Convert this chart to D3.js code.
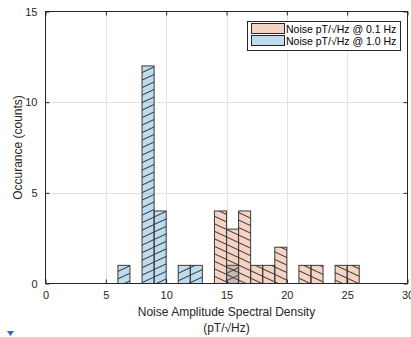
<!DOCTYPE html>
<html>
<head>
<meta charset="utf-8">
<script src="https://cdn.jsdelivr.net/npm/d3@7"></script>
<style>
  html, body { margin: 0; padding: 0; background: #fff; }
  svg { display: block; font-family: "Liberation Sans", Arial, Helvetica, sans-serif; }
</style>
</head>
<body>
<svg id="chart" width="411" height="337"></svg>
<script>
// Histogram bins (left edge, width 1) and counts for each series
const binWidth = 1;
const bins10 = [6, 8, 9, 11, 12, 15];
const counts10 = [1, 12, 4, 1, 1, 1];
const bins01 = [14, 15, 16, 17, 18, 19, 21, 22, 24, 25];
const counts01 = [4, 3, 4, 1, 1, 2, 1, 1, 1, 1];

const xTicks = [0, 5, 10, 15, 20, 25, 30];
const yTicks = [0, 5, 10, 15];
const seriesNames = ["Noise pT/\u221AHz @ 0.1 Hz", "Noise pT/\u221AHz @ 1.0 Hz"];
const seriesColors = ["rgb(217,83,25)", "rgb(0,114,189)"];
const xLabel = ["Noise Amplitude Spectral Density", "(pT/\u221AHz)"];
const yLabel = "Occurance (counts)";

const svg = d3.select("#chart");
const L = 45.5, R = 407.5, T = 11.5, B = 283.5;

const x = d3.scaleLinear().domain([0, 30]).range([L, R]);
const y = d3.scaleLinear().domain([0, 15]).range([B, T]);

// Hatch patterns: "/" for the 1.0 Hz bars, "\" for the 0.1 Hz bars
const defs = svg.append("defs");
function hatch(id, angle) {
  const p = defs.append("pattern")
    .attr("id", id)
    .attr("patternUnits", "userSpaceOnUse")
    .attr("width", 20).attr("height", 6.8)
    .attr("patternTransform", `rotate(${angle})`);
  p.append("line")
    .attr("x1", 0).attr("x2", 20).attr("y1", 3.4).attr("y2", 3.4)
    .attr("stroke", "#2a2a2a").attr("stroke-width", 0.9);
}
hatch("hatch10", -25);
hatch("hatch01", 25);

// Grid
const grid = svg.append("g").attr("stroke", "#e3e3e3").attr("stroke-width", 1);
grid.selectAll("line.gx").data(xTicks.slice(1, -1)).join("line")
  .attr("x1", d => Math.round(x(d)) + 0.5).attr("x2", d => Math.round(x(d)) + 0.5)
  .attr("y1", T).attr("y2", B);
grid.selectAll("line.gy").data(yTicks.slice(1, -1)).join("line")
  .attr("y1", d => Math.round(y(d)) + 0.5).attr("y2", d => Math.round(y(d)) + 0.5)
  .attr("x1", L).attr("x2", R);

// Bars
function drawBars(bins, counts, color, pattern) {
  const data = bins.map((b, i) => ({ b, c: counts[i] }));
  const g = svg.append("g");
  g.selectAll("rect.fill").data(data).join("rect")
    .attr("x", d => x(d.b)).attr("width", d => x(d.b + binWidth) - x(d.b))
    .attr("y", d => y(d.c)).attr("height", d => y(0) - y(d.c))
    .attr("fill", color).attr("fill-opacity", 0.25);
  g.selectAll("rect.hatch").data(data).join("rect")
    .attr("x", d => x(d.b)).attr("width", d => x(d.b + binWidth) - x(d.b))
    .attr("y", d => y(d.c)).attr("height", d => y(0) - y(d.c))
    .attr("fill", `url(#${pattern})`);
  g.selectAll("rect.edge").data(data).join("rect")
    .attr("x", d => x(d.b)).attr("width", d => x(d.b + binWidth) - x(d.b))
    .attr("y", d => y(d.c)).attr("height", d => y(0) - y(d.c))
    .attr("fill", "none").attr("stroke", "#3a3a3a").attr("stroke-width", 1);
}
drawBars(bins10, counts10, seriesColors[1], "hatch10");
drawBars(bins01, counts01, seriesColors[0], "hatch01");

// Axes (ticks pointing inward on all four sides)
const axisColor = "#262626";
function styleAxis(g) {
  g.select(".domain").remove();
  g.selectAll(".tick line").attr("stroke", axisColor);
  g.selectAll(".tick text").attr("fill", axisColor).attr("font-size", 11);
}
svg.append("g").attr("transform", `translate(0,${B})`)
  .call(d3.axisBottom(x).tickValues(xTicks).tickSize(-4).tickPadding(8).tickFormat(d3.format("d")))
  .call(styleAxis);
svg.append("g").attr("transform", `translate(${L},0)`)
  .call(d3.axisLeft(y).tickValues(yTicks).tickSize(-4).tickPadding(8).tickFormat(d3.format("d")))
  .call(styleAxis);
svg.append("g").attr("transform", `translate(0,${T})`)
  .call(d3.axisTop(x).tickValues(xTicks).tickSize(-4).tickFormat(""))
  .call(styleAxis);
svg.append("g").attr("transform", `translate(${R},0)`)
  .call(d3.axisRight(y).tickValues(yTicks).tickSize(-4).tickFormat(""))
  .call(styleAxis);

// Axes box
svg.append("rect")
  .attr("x", L).attr("y", T).attr("width", R - L).attr("height", B - T)
  .attr("fill", "none").attr("stroke", axisColor).attr("stroke-width", 1);

// Axis labels
svg.append("text")
  .attr("x", (L + R) / 2).attr("y", 316)
  .attr("text-anchor", "middle").attr("font-size", 12).attr("fill", axisColor)
  .text(xLabel[0]);
svg.append("text")
  .attr("x", (L + R) / 2).attr("y", 332)
  .attr("text-anchor", "middle").attr("font-size", 12).attr("fill", axisColor)
  .text(xLabel[1]);
svg.append("text")
  .attr("transform", `translate(22,${(T + B) / 2}) rotate(-90)`)
  .attr("text-anchor", "middle").attr("font-size", 12).attr("fill", axisColor)
  .text(yLabel);

// Legend
const lg = svg.append("g");
lg.append("rect")
  .attr("x", 247.5).attr("y", 21.5).attr("width", 153).attr("height", 29)
  .attr("fill", "#fff").attr("stroke", "#262626").attr("stroke-width", 1);
seriesNames.forEach((name, i) => {
  const yy = 23.5 + i * 12;
  lg.append("rect").attr("x", 251.5).attr("y", yy).attr("width", 33).attr("height", 10)
    .attr("fill", "#fff");
  lg.append("rect").attr("x", 251.5).attr("y", yy).attr("width", 33).attr("height", 10)
    .attr("fill", seriesColors[i]).attr("fill-opacity", 0.25)
    .attr("stroke", "#262626").attr("stroke-width", 1);
  lg.append("text").attr("x", 286).attr("y", yy + 9)
    .attr("font-size", 10.5).attr("fill", "#000").text(name);
});

// Small marker at the lower left
svg.append("path")
  .attr("d", "M7,331 L14,331 L10.5,336 Z")
  .attr("fill", "#1f6fc4");
</script>
</body>
</html>
